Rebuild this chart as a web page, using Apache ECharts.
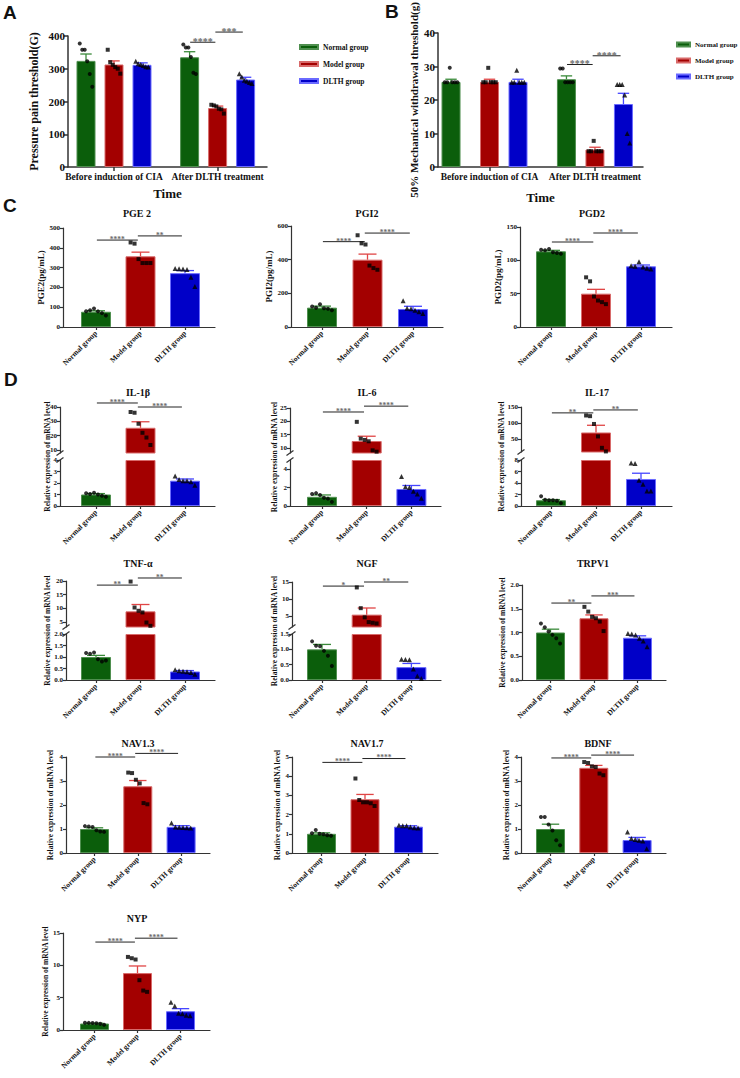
<!DOCTYPE html>
<html><head><meta charset="utf-8">
<script src="https://cdn.jsdelivr.net/npm/echarts@6/dist/echarts.min.js"></script>
<style>html,body{margin:0;padding:0;background:#fff}#c{width:740px;height:1078px}</style>
</head><body><div id="c"></div>
<script>
// ---------------- DATA ----------------
const groups = ['Normal group', 'Model group', 'DLTH group'];
const timePoints = ['Before induction of CIA', 'After DLTH treatment'];

// Panel A (index 0 = before, 1 = after)
const A_mean_normal = [324, 335], A_sem_normal = [21, 17];
const A_mean_model = [313, 180], A_sem_model = [11, 6];
const A_mean_dlth = [312, 267], A_sem_dlth = [6, 7];
const A_dots_normal = [[377, 358, 358, 323, 284, 245], [374, 365, 365, 336, 288, 284]];
const A_dots_model = [[358, 320, 312, 305, 300, 285], [190, 188, 185, 178, 176, 163]];
const A_dots_dlth = [[323, 315, 313, 310, 306, 305], [285, 275, 265, 262, 258, 255]];
const A_yticks = ['0', '100', '200', '300', '400'];
const A_sig = ['****', '***'];

// Panel B
const B_mean_normal = [25.4, 26.2], B_sem_normal = [0.8, 1.0];
const B_mean_model = [25.4, 5.2], B_sem_model = [0.8, 0.7];
const B_mean_dlth = [25.4, 18.8], B_sem_dlth = [0.8, 3.2];
const B_dots_normal = [[25.3, 25.3, 29.6, 25.3, 25.3, 25.3], [29.4, 29.4, 25.3, 25.3, 25.3, 25.3]];
const B_dots_model = [[25.3, 25.3, 29.6, 25.3, 25.3, 25.3], [4.7, 4.7, 7.8, 4.7, 4.7, 4.7]];
const B_dots_dlth = [[25.3, 25.3, 28.9, 25.3, 25.3, 25.3], [24.6, 24.6, 24.6, 21.5, 10.0, 7.2]];
const B_yticks = ['0', '10', '20', '30', '40'];
const B_sig = ['****', '****'];

// Panel C
const PGE2_mean = [77, 357, 272], PGE2_sem = [5, 21, 13];
const PGE2_dots = [[80, 85, 93, 79, 70, 58], [427, 421, 343, 323, 323, 323], [295, 294, 293, 290, 251, 205]];
const PGE2_yticks = ['0', '100', '200', '300', '400', '500'];
const PGE2_sig = ['****', '**'];

const PGI2_mean = [115, 400, 107], PGI2_sem = [9, 33, 16];
const PGI2_dots = [[122, 114, 135, 112, 108, 100], [545, 497, 490, 365, 350, 340], [156, 112, 108, 100, 90, 80]];
const PGI2_yticks = ['0', '200', '400', '600'];
const PGI2_sig = ['****', '****'];

const PGD2_mean = [113.5, 50, 91], PGD2_sem = [1.5, 6.5, 2];
const PGD2_dots = [[116, 115, 117, 112, 111, 110], [74.5, 68.5, 45.7, 39.7, 37.3, 34.3], [92, 91, 98, 90, 88, 87]];
const PGD2_yticks = ['0', '50', '100', '150'];
const PGD2_sig = ['****', '****'];

// Panel D
const IL1B_mean = [1.0, 25.5, 2.2], IL1B_sem = [0.08, 4.2, 0.15];
const IL1B_dots = [[1.1, 1.05, 1.15, 1.0, 0.9, 0.8], [36.5, 36, 28.3, 22, 18.7, 13.5], [2.6, 2.3, 2.2, 2.2, 2.1, 1.8]];
const IL1B_yticks_low = ['0', '1', '2', '3', '4'], IL1B_yticks_high = ['10', '20', '30', '40'];
const IL1B_sig = ['****', '****'];

const IL6_mean = [1.0, 12.6, 1.85], IL6_sem = [0.2, 1.8, 0.38];
const IL6_dots = [[1.3, 1.4, 1.2, 0.9, 0.8, 0.45], [19.8, 13.5, 13.0, 12.5, 9.1, 8.6], [3.2, 2.1, 2.0, 1.6, 1.3, 0.85]];
const IL6_yticks_low = ['0', '2', '4'], IL6_yticks_high = ['10', '15', '20', '25'];
const IL6_sig = ['****', '****'];

const IL17_mean = [1.0, 70.4, 4.7], IL17_sem = [0.12, 22.5, 1.0];
const IL17_dots = [[1.7, 1.1, 1.0, 1.0, 0.9, 0.5], [123.5, 121.4, 97, 58, 22.4, 11.2], [7.5, 7.4, 4.5, 3.8, 2.6, 2.6]];
const IL17_yticks_low = ['0', '2', '4', '6', '8'], IL17_yticks_high = ['50', '100', '150'];
const IL17_sig = ['**', '**'];

const TNF_mean = [1.0, 8.9, 0.37], TNF_sem = [0.07, 2.5, 0.04];
const TNF_dots = [[1.17, 1.14, 1.2, 0.9, 0.8, 0.85], [19.8, 10.3, 9.1, 8.5, 4.8, 3.6], [0.45, 0.4, 0.38, 0.36, 0.33, 0.25]];
const TNF_yticks_low = ['0.0', '0.5', '1.0', '1.5', '2.0'], TNF_yticks_high = ['5', '10', '15', '20'];
const TNF_sig = ['**', '**'];

const NGF_mean = [1.0, 5.4, 0.42], NGF_sem = [0.16, 1.95, 0.12];
const NGF_dots = [[1.26, 1.12, 1.1, 0.95, 0.79, 0.46], [13.4, 7.3, 4.6, 3.2, 3.0, 2.8], [0.68, 0.67, 0.66, 0.36, 0.13, 0.05]];
const NGF_yticks_low = ['0.0', '0.5', '1.0', '1.5'], NGF_yticks_high = ['5', '10', '15'];
const NGF_sig = ['*', '**'];

const TRPV1_mean = [1.0, 1.3, 0.89], TRPV1_sem = [0.07, 0.07, 0.04];
const TRPV1_dots = [[1.19, 1.11, 1.02, 0.95, 0.88, 0.77], [1.54, 1.44, 1.33, 1.3, 1.23, 1.03], [0.98, 0.97, 0.95, 0.88, 0.82, 0.7]];
const TRPV1_yticks = ['0.0', '0.5', '1.0', '1.5', '2.0'];
const TRPV1_sig = ['**', '***'];

const NAV13_mean = [1.0, 2.78, 1.09], NAV13_sem = [0.05, 0.24, 0.05];
const NAV13_dots = [[1.12, 1.1, 1.08, 0.95, 0.9, 0.88], [3.35, 3.33, 3.05, 2.9, 2.08, 2.03], [1.25, 1.08, 1.07, 1.06, 1.05, 1.04]];
const NAV13_yticks = ['0', '1', '2', '3', '4'];
const NAV13_sig = ['****', '****'];

const NAV17_mean = [1.0, 2.8, 1.37], NAV17_sem = [0.05, 0.25, 0.05];
const NAV17_dots = [[1.03, 1.2, 1.0, 0.98, 0.93, 0.9], [3.88, 2.76, 2.64, 2.64, 2.59, 2.45], [1.45, 1.42, 1.42, 1.35, 1.32, 1.3]];
const NAV17_yticks = ['0', '1', '2', '3', '4', '5'];
const NAV17_sig = ['****', '****'];

const BDNF_mean = [1.0, 3.55, 0.54], BDNF_sem = [0.2, 0.1, 0.11];
const BDNF_dots = [[1.5, 1.5, 1.19, 0.94, 0.53, 0.32], [3.79, 3.75, 3.61, 3.58, 3.31, 3.24], [0.88, 0.6, 0.56, 0.53, 0.5, 0.18]];
const BDNF_yticks = ['0', '1', '2', '3', '4'];
const BDNF_sig = ['****', '****'];

const NYP_mean = [1.0, 8.8, 2.9], NYP_sem = [0.05, 1.1, 0.4];
const NYP_dots = [[1.12, 1.1, 1.08, 1.05, 0.95, 0.8], [11.3, 11.1, 10.9, 7.7, 6.1, 5.9], [4.3, 3.7, 2.6, 2.5, 2.3, 2.2]];
const NYP_yticks = ['0', '5', '10', '15'];
const NYP_sig = ['****', '****'];

const MRNA_TITLE = 'Relative expression of mRNA level';

// ---------------- LAYOUT / STYLE ----------------
const SERIF = '"Liberation Serif","Times New Roman",serif';
const SANS = '"Liberation Sans",Arial,sans-serif';
const TXT = '#111';
const AXC = '#333';
const COLORS = ['#0b5e0b', '#a30000', '#0000c8'];
const BORDERS = ['#4f8f4f', '#d86a6a', '#6a6aff'];
const ERRC = ['#3a8a3a', '#e04545', '#4545ff'];
const SYMS = ['circle', 'rect', 'triangle'];

const option = { animation: false, backgroundColor: '#ffffff', title: [], legend: [], grid: [], xAxis: [], yAxis: [], series: [] };

function addGrid(left, right, top, bottom) {
  option.grid.push({ left: left, top: top, width: right - left, height: bottom - top });
  return option.grid.length - 1;
}
function labelFormatter(labels) {
  return function (v) {
    const s = labels.find(t => Math.abs(+t - v) < 1e-6);
    return s === undefined ? '' : s;
  };
}
function addY(gi, min, max, labels, fs, extra) {
  const vals = labels.map(Number);
  option.yAxis.push(Object.assign({
    gridIndex: gi, type: 'value', min: min, max: max, splitLine: { show: false },
    axisLine: { show: true, onZero: false, lineStyle: { color: AXC, width: 1.2 } },
    axisTick: { show: true, length: 3, customValues: vals, lineStyle: { color: AXC, width: 1.2 } },
    axisLabel: { show: true, customValues: vals, formatter: labelFormatter(labels), color: TXT, fontFamily: SERIF, fontWeight: 'bold', fontSize: fs, margin: 3 }
  }, extra || {}));
  return option.yAxis.length - 1;
}
function titleText(text, x, y, fs, family, align) {
  option.title.push({ text: text, left: x, top: y, padding: 0, textAlign: align || 'center', textVerticalAlign: 'top',
    textStyle: { fontFamily: family || SERIF, fontWeight: 'bold', fontSize: fs, color: TXT } });
}
function errSeries(xi, yi, data, capHalf) {
  return {
    type: 'custom', xAxisIndex: xi, yAxisIndex: yi, z: 3, silent: true, clip: false, data: data,
    renderItem: function (params, api) {
      const x = api.value(0), m = api.value(1), t = api.value(2), g = api.value(3);
      const p0 = api.coord([x, m]), p1 = api.coord([x, t]);
      const c = ERRC[g];
      return { type: 'group', children: [
        { type: 'line', shape: { x1: p0[0], y1: p0[1], x2: p1[0], y2: p1[1] }, style: { stroke: c, lineWidth: 1.3 } },
        { type: 'line', shape: { x1: p1[0] - capHalf, y1: p1[1], x2: p1[0] + capHalf, y2: p1[1] }, style: { stroke: c, lineWidth: 1.3 } }
      ] };
    }
  };
}
function sigSeries(xi, yi, data, texts, fs) {
  return {
    type: 'custom', xAxisIndex: xi, yAxisIndex: yi, z: 4, silent: true, clip: false, data: data,
    renderItem: function (params, api) {
      const p1 = api.coord([api.value(0), api.value(2)]), p2 = api.coord([api.value(1), api.value(2)]);
      return { type: 'group', children: [
        { type: 'line', shape: { x1: p1[0], y1: p1[1], x2: p2[0], y2: p2[1] }, style: { stroke: '#222', lineWidth: 1 } },
        { type: 'text', style: { text: texts[params.dataIndex], x: (p1[0] + p2[0]) / 2, y: p1[1] + fs * 0.45, align: 'center', verticalAlign: 'bottom', fill: '#6a6a6a', font: 'bold ' + fs + 'px ' + SERIF } }
      ] };
    }
  };
}
function breakSeries(xi, yi, x, v) {
  return {
    type: 'custom', xAxisIndex: xi, yAxisIndex: yi, z: 5, silent: true, clip: false, data: [[x, v]],
    renderItem: function (params, api) {
      const p = api.coord([api.value(0), api.value(1)]);
      return { type: 'line', shape: { x1: p[0] - 3.5, y1: p[1] + 2.5, x2: p[0] + 3.5, y2: p[1] - 2.5 }, style: { stroke: AXC, lineWidth: 1.2 } };
    }
  };
}
function jitter(j, n, spread) {
  return n > 1 ? ((j - (n - 1) / 2) / ((n - 1) / 2)) * spread : 0;
}

// ---- Panels A / B (two time points) ----
function buildTime(L, means, sems, dots, ylabels, sig, yTitle) {
  const xmin = (L.left - L.c0) / L.unit, xmax = (L.right - L.c0) / L.unit;
  const gi = addGrid(L.left, L.right, L.top, L.bottom);
  const centers = L.xpos.map(p => p[1]);
  option.xAxis.push({
    gridIndex: gi, type: 'value', min: xmin, max: xmax, splitLine: { show: false },
    name: 'Time', nameLocation: 'middle', nameGap: L.xNameGap,
    nameTextStyle: { fontFamily: SERIF, fontWeight: 'bold', fontSize: 13, color: TXT },
    axisLine: { show: true, onZero: false, lineStyle: { color: AXC, width: 1.5 } },
    axisTick: { show: true, length: 4, customValues: centers, lineStyle: { color: AXC, width: 1.5 } },
    axisLabel: { show: true, customValues: centers, formatter: function (v) { const i = centers.findIndex(c => Math.abs(c - v) < 1e-6); return i < 0 ? '' : timePoints[i]; },
      fontFamily: SERIF, fontWeight: 'bold', fontSize: 9.5, color: TXT, margin: 5 }
  });
  const xi = option.xAxis.length - 1;
  const yi = addY(gi, L.min, L.max, ylabels, 11, {
    name: yTitle, nameLocation: 'middle', nameGap: L.nameGap,
    nameTextStyle: { fontFamily: SERIF, fontWeight: 'bold', fontSize: L.nameSize, color: TXT },
    axisLine: { show: true, onZero: false, lineStyle: { color: AXC, width: 1.5 } },
    axisTick: { show: true, length: 4, customValues: ylabels.map(Number), lineStyle: { color: AXC, width: 1.5 } }
  });
  const errData = [];
  groups.forEach((gname, g) => {
    option.series.push({
      type: 'bar', name: gname, xAxisIndex: xi, yAxisIndex: yi, barWidth: L.bw, barGap: '-100%', clip: true, z: 2,
      itemStyle: { color: COLORS[g], borderColor: BORDERS[g], borderWidth: 1 },
      data: means[g].map((m, t) => [L.xpos[t][g], m])
    });
    means[g].forEach((m, t) => errData.push([L.xpos[t][g], m, m + sems[g][t], g]));
    const dd = [];
    dots[g].forEach((arr, t) => arr.forEach((v, j) => dd.push([L.xpos[t][g] + jitter(j, arr.length, 0.33 * L.bw / L.unit), v])));
    option.series.push({ type: 'scatter', xAxisIndex: xi, yAxisIndex: yi, z: 4, silent: true, clip: false,
      symbol: SYMS[g], symbolSize: g === 2 ? 5 : 4, itemStyle: { color: '#000' }, data: dd });
  });
  option.series.push(errSeries(xi, yi, errData, 0.3 * L.bw));
  const a = L.xpos[1];
  option.series.push(sigSeries(xi, yi, [[a[0] + 0.02, a[1] - 0.08, L.sigY[0]], [a[1] - 0.08, a[2] - 0.1, L.sigY[1]]], sig, 10));
  option.legend.push({
    data: groups, left: L.legend[0], top: L.legend[1], orient: 'vertical', icon: 'rect',
    itemWidth: L.legendW, itemHeight: 4, itemGap: 9, selectedMode: false,
    textStyle: { fontFamily: SERIF, fontWeight: 'bold', fontSize: L.legendFont, color: TXT }
  });
}

// ---- Panels C / D (three groups, optional broken axis) ----
function buildPanel(L, title, mean, sem, dots, ylabels, sig, yTitle) {
  const xmin = (L.left - L.c0) / L.unit, xmax = (L.right - L.c0) / L.unit;
  const segs = L.segs, broken = segs.length > 1;
  titleText(title, L.title[0], L.title[1] - 5, 10);
  segs.forEach((seg, si) => {
    const gi = addGrid(L.left, L.right, seg.top, seg.bottom);
    const isBottom = si === 0, isTop = si === segs.length - 1;
    if (isBottom) {
      option.xAxis.push({
        gridIndex: gi, type: 'value', min: xmin, max: xmax, splitLine: { show: false },
        axisLine: { show: true, onZero: false, lineStyle: { color: AXC, width: 1.2 } },
        axisTick: { show: true, length: 3, customValues: [0, 1, 2], lineStyle: { color: AXC, width: 1.2 } },
        axisLabel: { show: true, customValues: [0, 1, 2], formatter: v => groups[Math.round(v)], rotate: 45,
          fontFamily: SERIF, fontWeight: 'bold', fontSize: 7.5, color: TXT, margin: 5 }
      });
    } else {
      option.xAxis.push({ gridIndex: gi, type: 'value', min: xmin, max: xmax, show: false });
    }
    const xi = option.xAxis.length - 1;
    const extra = broken ? {} : { name: yTitle, nameLocation: 'middle', nameGap: L.nameGap,
      nameTextStyle: { fontFamily: SERIF, fontWeight: 'bold', fontSize: L.nameSize || 7.5, color: TXT } };
    const yi = addY(gi, seg.min, seg.max, ylabels[si], 7, extra);
    const inSeg = v => v >= seg.min - 1e-9 && v <= seg.max + 1e-9;
    const barData = [];
    mean.forEach((m, g) => {
      if (isBottom || m > seg.min) barData.push({ value: [g, Math.min(m, seg.max)], itemStyle: { color: COLORS[g], borderColor: BORDERS[g], borderWidth: 1 } });
    });
    option.series.push({ type: 'bar', xAxisIndex: xi, yAxisIndex: yi, barWidth: L.bw, clip: true, z: 2, silent: true, data: barData });
    const errData = [];
    mean.forEach((m, g) => { if (inSeg(m)) errData.push([g, m, m + sem[g], g]); });
    option.series.push(errSeries(xi, yi, errData, 0.3 * L.bw));
    const dd = [];
    dots.forEach((arr, g) => arr.forEach((v, j) => {
      if (inSeg(v)) dd.push({ value: [g + jitter(j, arr.length, 0.33 * L.bw / L.unit), v], symbol: SYMS[g], symbolSize: g === 2 ? 5 : 4 });
    }));
    option.series.push({ type: 'scatter', xAxisIndex: xi, yAxisIndex: yi, z: 4, silent: true, clip: false, itemStyle: { color: '#000' }, data: dd });
    if (isTop) option.series.push(sigSeries(xi, yi, [[0.02, 0.94, L.sigY[0]], [0.94, 1.93, L.sigY[1]]], sig, 7.5));
    if (broken) option.series.push(breakSeries(xi, yi, xmin, isBottom ? seg.max : seg.min));
  });
  if (broken) {
    const gi = addGrid(L.left, L.right, segs[segs.length - 1].top, segs[0].bottom);
    option.xAxis.push({ gridIndex: gi, type: 'value', min: 0, max: 1, show: false });
    option.yAxis.push({ gridIndex: gi, type: 'value', min: 0, max: 1, splitLine: { show: false },
      axisLine: { show: false }, axisTick: { show: false }, axisLabel: { show: false },
      name: yTitle, nameLocation: 'middle', nameGap: L.nameGap,
      nameTextStyle: { fontFamily: SERIF, fontWeight: 'bold', fontSize: L.nameSize || 7.5, color: TXT } });
  }
}

// Letters
titleText('A', 3, 3, 19, SANS, 'left');
titleText('B', 385, 2, 19, SANS, 'left');
titleText('C', 3, 196, 19, SANS, 'left');
titleText('D', 4, 370, 19, SANS, 'left');

buildTime({ left: 68, right: 267, top: 36, bottom: 167, min: 0, max: 400, c0: 86, unit: 28, bw: 19,
  xpos: [[0, 1, 2], [3.7, 4.7, 5.7]], nameGap: 28, nameSize: 12, xNameGap: 20, sigY: [381, 412], legend: [294, 38], legendW: 18, legendFont: 7.5 },
  [A_mean_normal, A_mean_model, A_mean_dlth], [A_sem_normal, A_sem_model, A_sem_dlth],
  [A_dots_normal, A_dots_model, A_dots_dlth], A_yticks, A_sig, 'Pressure pain threshold(G)');

buildTime({ left: 438, right: 643, top: 33, bottom: 167, min: 0, max: 40, c0: 461, unit: 28.5, bw: 19,
  xpos: [[-0.35, 1, 2], [3.7, 4.7, 5.7]], nameGap: 19, nameSize: 11, xNameGap: 24, sigY: [30.6, 33.2], legend: [671, 36], legendW: 13, legendFont: 7 },
  [B_mean_normal, B_mean_model, B_mean_dlth], [B_sem_normal, B_sem_model, B_sem_dlth],
  [B_dots_normal, B_dots_model, B_dots_dlth], B_yticks, B_sig, '50% Mechanical withdrawal threshold(g)');

buildPanel({ left: 63, right: 215, c0: 96, unit: 44.5, bw: 30, segs: [{ top: 228, bottom: 327, min: 0, max: 500 }], title: [137, 213], nameGap: 14, nameSize: 9, sigY: [439, 460] },
  'PGE 2', PGE2_mean, PGE2_sem, PGE2_dots, [PGE2_yticks], PGE2_sig, 'PGE2(pg/mL)');
buildPanel({ left: 291, right: 443, c0: 322, unit: 45.5, bw: 30, segs: [{ top: 226, bottom: 327, min: 0, max: 600 }], title: [367, 213], nameGap: 15, nameSize: 9, sigY: [507, 558] },
  'PGI2', PGI2_mean, PGI2_sem, PGI2_dots, [PGI2_yticks], PGI2_sig, 'PGI2(pg/mL)');
buildPanel({ left: 520, right: 672, c0: 551, unit: 45, bw: 30, segs: [{ top: 227, bottom: 327, min: 0, max: 150 }], title: [592, 213], nameGap: 16, nameSize: 9, sigY: [127.5, 141] },
  'PGD2', PGD2_mean, PGD2_sem, PGD2_dots, [PGD2_yticks], PGD2_sig, 'PGD2(pg/mL)');

buildPanel({ left: 60, right: 215, c0: 96, unit: 44.5, bw: 30, segs: [{ top: 460, bottom: 506, min: 0, max: 4 }, { top: 407, bottom: 453, min: 7.9, max: 40 }], title: [138, 392], nameGap: 9, sigY: [42.8, 40] },
  'IL-1β', IL1B_mean, IL1B_sem, IL1B_dots, [IL1B_yticks_low, IL1B_yticks_high], IL1B_sig, MRNA_TITLE);
buildPanel({ left: 290, right: 441, c0: 322, unit: 44.7, bw: 30, segs: [{ top: 460, bottom: 506, min: 0, max: 5 }, { top: 408, bottom: 453, min: 8.1, max: 25 }], title: [367, 392], nameGap: 12, sigY: [23.5, 25.7] },
  'IL-6', IL6_mean, IL6_sem, IL6_dots, [IL6_yticks_low, IL6_yticks_high], IL6_sig, MRNA_TITLE);
buildPanel({ left: 521, right: 672, c0: 551, unit: 45, bw: 30, segs: [{ top: 460, bottom: 506, min: 0, max: 8 }, { top: 407, bottom: 452, min: 9.4, max: 150 }], title: [597, 392], nameGap: 16, sigY: [131.6, 140.8] },
  'IL-17', IL17_mean, IL17_sem, IL17_dots, [IL17_yticks_low, IL17_yticks_high], IL17_sig, MRNA_TITLE);

buildPanel({ left: 66, right: 215, c0: 96, unit: 44.5, bw: 30, segs: [{ top: 634, bottom: 680, min: 0, max: 2 }, { top: 581, bottom: 627, min: 3.17, max: 20 }], title: [138, 563], nameGap: 15, sigY: [18.5, 21.1] },
  'TNF-α', TNF_mean, TNF_sem, TNF_dots, [TNF_yticks_low, TNF_yticks_high], TNF_sig, MRNA_TITLE);
buildPanel({ left: 292, right: 441, c0: 322, unit: 44.7, bw: 30, segs: [{ top: 634, bottom: 680, min: 0, max: 1.5 }, { top: 582, bottom: 627, min: 1.76, max: 15 }], title: [367, 563], nameGap: 14, sigY: [13.8, 15] },
  'NGF', NGF_mean, NGF_sem, NGF_dots, [NGF_yticks_low, NGF_yticks_high], NGF_sig, MRNA_TITLE);
buildPanel({ left: 522, right: 666, c0: 550.5, unit: 43.5, bw: 29, segs: [{ top: 585, bottom: 680, min: 0, max: 2 }], title: [593, 563], nameGap: 16, sigY: [1.62, 1.77] },
  'TRPV1', TRPV1_mean, TRPV1_sem, TRPV1_dots, [TRPV1_yticks], TRPV1_sig, MRNA_TITLE);

buildPanel({ left: 66, right: 210, c0: 94.5, unit: 43.3, bw: 29, segs: [{ top: 757, bottom: 853, min: 0, max: 4 }], title: [138, 743], nameGap: 12, sigY: [4.0, 4.15] },
  'NAV1.3', NAV13_mean, NAV13_sem, NAV13_dots, [NAV13_yticks], NAV13_sig, MRNA_TITLE);
buildPanel({ left: 292, right: 438, c0: 321.5, unit: 43.5, bw: 29, segs: [{ top: 757, bottom: 853, min: 0, max: 5 }], title: [367, 743], nameGap: 10, sigY: [4.72, 4.92] },
  'NAV1.7', NAV17_mean, NAV17_sem, NAV17_dots, [NAV17_yticks], NAV17_sig, MRNA_TITLE);
buildPanel({ left: 521, right: 666, c0: 550.5, unit: 43.3, bw: 29, segs: [{ top: 757, bottom: 853, min: 0, max: 4 }], title: [598, 743], nameGap: 11, sigY: [3.96, 4.08] },
  'BDNF', BDNF_mean, BDNF_sem, BDNF_dots, [BDNF_yticks], BDNF_sig, MRNA_TITLE);

buildPanel({ left: 63, right: 210, c0: 94.5, unit: 43, bw: 29, segs: [{ top: 933, bottom: 1030, min: 0, max: 15 }], title: [137, 918], nameGap: 13, sigY: [13.6, 14.2] },
  'NYP', NYP_mean, NYP_sem, NYP_dots, [NYP_yticks], NYP_sig, MRNA_TITLE);

const chart = echarts.init(document.getElementById('c'), null, { renderer: 'svg', width: 740, height: 1078 });
chart.setOption(option);
</script>
</body></html>
